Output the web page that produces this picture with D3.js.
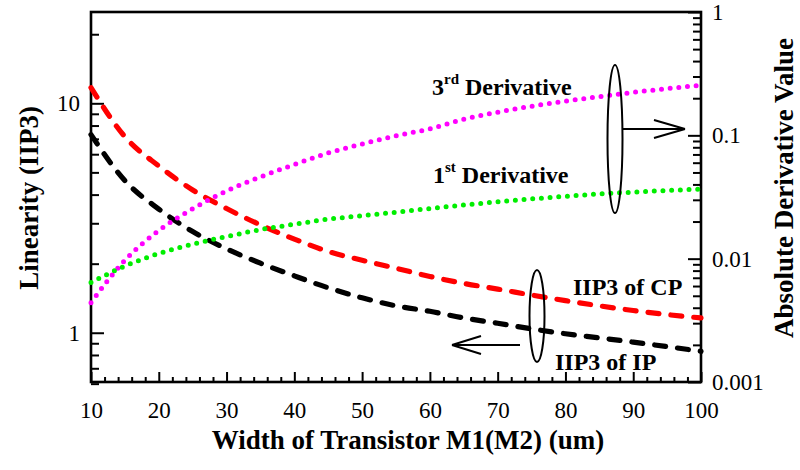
<!DOCTYPE html>
<html>
<head>
<meta charset="utf-8">
<script src="https://cdn.jsdelivr.net/npm/d3@7"></script>
<style>
  body { margin: 0; background: #fff; }
  text { font-family: "Liberation Serif", "Times New Roman", serif; fill: #000; }
</style>
</head>
<body>
<svg id="chart" width="800" height="470"></svg>
<script>
// Transistor width sweep (um)
const widths = [10, 15, 20, 25, 30, 35, 40, 45, 50, 55, 60, 65, 70, 75, 80, 85, 90, 95, 100];
// IIP3 (left axis)
const iip3CP = [11.7, 7.15, 5.33, 4.19, 3.48, 2.95, 2.56, 2.26, 2.07, 1.91, 1.76, 1.64, 1.55, 1.46, 1.38, 1.31, 1.25, 1.20, 1.16];
const iip3IP = [7.3, 4.6, 3.46, 2.76, 2.32, 2.01, 1.77, 1.57, 1.42, 1.31, 1.24, 1.16, 1.10, 1.04, 0.99, 0.95, 0.91, 0.87, 0.83];
// Absolute derivative values (right axis)
const deriv3 = [0.0044, 0.0097, 0.0169, 0.0254, 0.0354, 0.046, 0.058, 0.072, 0.085, 0.099, 0.113, 0.135, 0.154, 0.172, 0.189, 0.206, 0.223, 0.239, 0.255];
const deriv1 = [0.0064, 0.0087, 0.0110, 0.0131, 0.0151, 0.0172, 0.0190, 0.0209, 0.0223, 0.0238, 0.0255, 0.0272, 0.0289, 0.0305, 0.0320, 0.0335, 0.0346, 0.0357, 0.0367];

const xMajorTicks = [10, 20, 30, 40, 50, 60, 70, 80, 90, 100];
const xMinorTicks = d3.range(12, 100, 2).filter(v => v % 10 !== 0);
const leftMajorTicks = [1, 10];
const leftMinorTicks = [0.6, 0.7, 0.8, 0.9, 2, 3, 4, 5, 6, 7, 8, 9, 20];
const rightMajorTicks = [0.001, 0.01, 0.1, 1];
const rightMinorTicks = [0.001, 0.01, 0.1].flatMap(d => d3.range(2, 10).map(k => +(d * k).toPrecision(3)));

const svg = d3.select("#chart");
const L = 91, R = 701, T = 12, B = 382;

const x = d3.scaleLinear().domain([10, 100]).range([L, R]);
const yL = d3.scaleLog().domain([0.61, 25]).range([B, T]);
const yR = d3.scaleLog().domain([0.001, 1]).range([B, T]);

function styleAxis(g) {
  g.select(".domain").remove();
  g.selectAll(".tick line").attr("stroke", "#000").attr("stroke-width", 2);
  g.selectAll(".tick text").style("font-family", "'Liberation Serif', serif").style("font-size", "23px").attr("fill", "#000");
}

// Bottom axis
svg.append("g").attr("transform", `translate(0,${B})`)
  .call(d3.axisBottom(x).tickValues(xMajorTicks).tickSize(-10).tickPadding(20).tickFormat(d3.format("d")))
  .call(styleAxis);
svg.append("g").attr("transform", `translate(0,${B})`)
  .call(d3.axisBottom(x).tickValues(xMinorTicks).tickSize(-5).tickFormat(""))
  .call(styleAxis);

// Left axis
svg.append("g").attr("transform", `translate(${L},0)`)
  .call(d3.axisLeft(yL).tickValues(leftMajorTicks).tickSize(-13).tickPadding(11).tickFormat(d3.format("d")))
  .call(styleAxis);
svg.append("g").attr("transform", `translate(${L},0)`)
  .call(d3.axisLeft(yL).tickValues(leftMinorTicks).tickSize(-8).tickFormat(""))
  .call(styleAxis);

// Right axis
svg.append("g").attr("transform", `translate(${R},0)`)
  .call(d3.axisRight(yR).tickValues(rightMajorTicks).tickSize(-13).tickPadding(11).tickFormat(d => d >= 1 ? "1" : d3.format(".3~f")(d)))
  .call(styleAxis);
svg.append("g").attr("transform", `translate(${R},0)`)
  .call(d3.axisRight(yR).tickValues(rightMinorTicks).tickSize(-8).tickFormat(""))
  .call(styleAxis);

// Frame
svg.append("rect").attr("x", L).attr("y", T).attr("width", R - L).attr("height", B - T)
  .attr("fill", "none").attr("stroke", "#000").attr("stroke-width", 2.6);

// Curves
const lineL = d3.line().x((d, i) => x(widths[i])).y(d => yL(d)).curve(d3.curveMonotoneX);
const lineR = d3.line().x((d, i) => x(widths[i])).y(d => yR(d)).curve(d3.curveMonotoneX);

function dashed(data, color) {
  svg.append("path").datum(data).attr("d", lineL)
    .attr("fill", "none").attr("stroke", color).attr("stroke-width", 5.2)
    .attr("stroke-linecap", "round").attr("stroke-dasharray", "11 12");
}
function dotted(data, color) {
  svg.append("path").datum(data).attr("d", lineR)
    .attr("fill", "none").attr("stroke", color).attr("stroke-width", 5)
    .attr("stroke-linecap", "round").attr("stroke-dasharray", "0 8.7");
}
dashed(iip3CP, "#ff0000");
dashed(iip3IP, "#000000");
dotted(deriv3, "#ff00ff");
dotted(deriv1, "#00ee00");

// Annotations
function label(xp, yp, main, sup, rest) {
  const t = svg.append("text").attr("x", xp).attr("y", yp)
    .style("font-size", "24px").style("font-weight", "bold");
  t.append("tspan").text(main);
  if (sup) {
    t.append("tspan").attr("dy", -11).style("font-size", "15px").text(sup);
    t.append("tspan").attr("dy", 11).text(rest);
  }
}
label(432, 95, "3", "rd", " Derivative");
label(433, 183, "1", "st", " Derivative");
label(573, 295, "IIP3 of CP");
label(555, 370, "IIP3 of IP");

// Group markers: ellipses with arrows pointing to the relevant axis
const ann = svg.append("g").attr("fill", "none").attr("stroke", "#000").attr("stroke-width", 2);
ann.append("ellipse").attr("cx", 615).attr("cy", 139).attr("rx", 7.5).attr("ry", 74);
ann.append("path").attr("d", "M623,129 H685 M685,129 L654,120 M685,129 L654,138");
ann.append("ellipse").attr("cx", 537).attr("cy", 316).attr("rx", 7.5).attr("ry", 46);
ann.append("path").attr("d", "M520,345 H452 M452,345 L481,336 M452,345 L481,354");

// Axis titles
svg.append("text").attr("x", 408).attr("y", 449).attr("text-anchor", "middle")
  .style("font-size", "27px").style("font-weight", "bold").text("Width of Transistor M1(M2) (um)");
svg.append("text").attr("transform", "translate(38,198) rotate(-90)").attr("text-anchor", "middle")
  .style("font-size", "27px").style("font-weight", "bold").text("Linearity (IIP3)");
svg.append("text").attr("transform", "translate(793,188) rotate(-90)").attr("text-anchor", "middle")
  .style("font-size", "27px").style("font-weight", "bold").text("Absolute Derivative Value");
</script>
</body>
</html>
